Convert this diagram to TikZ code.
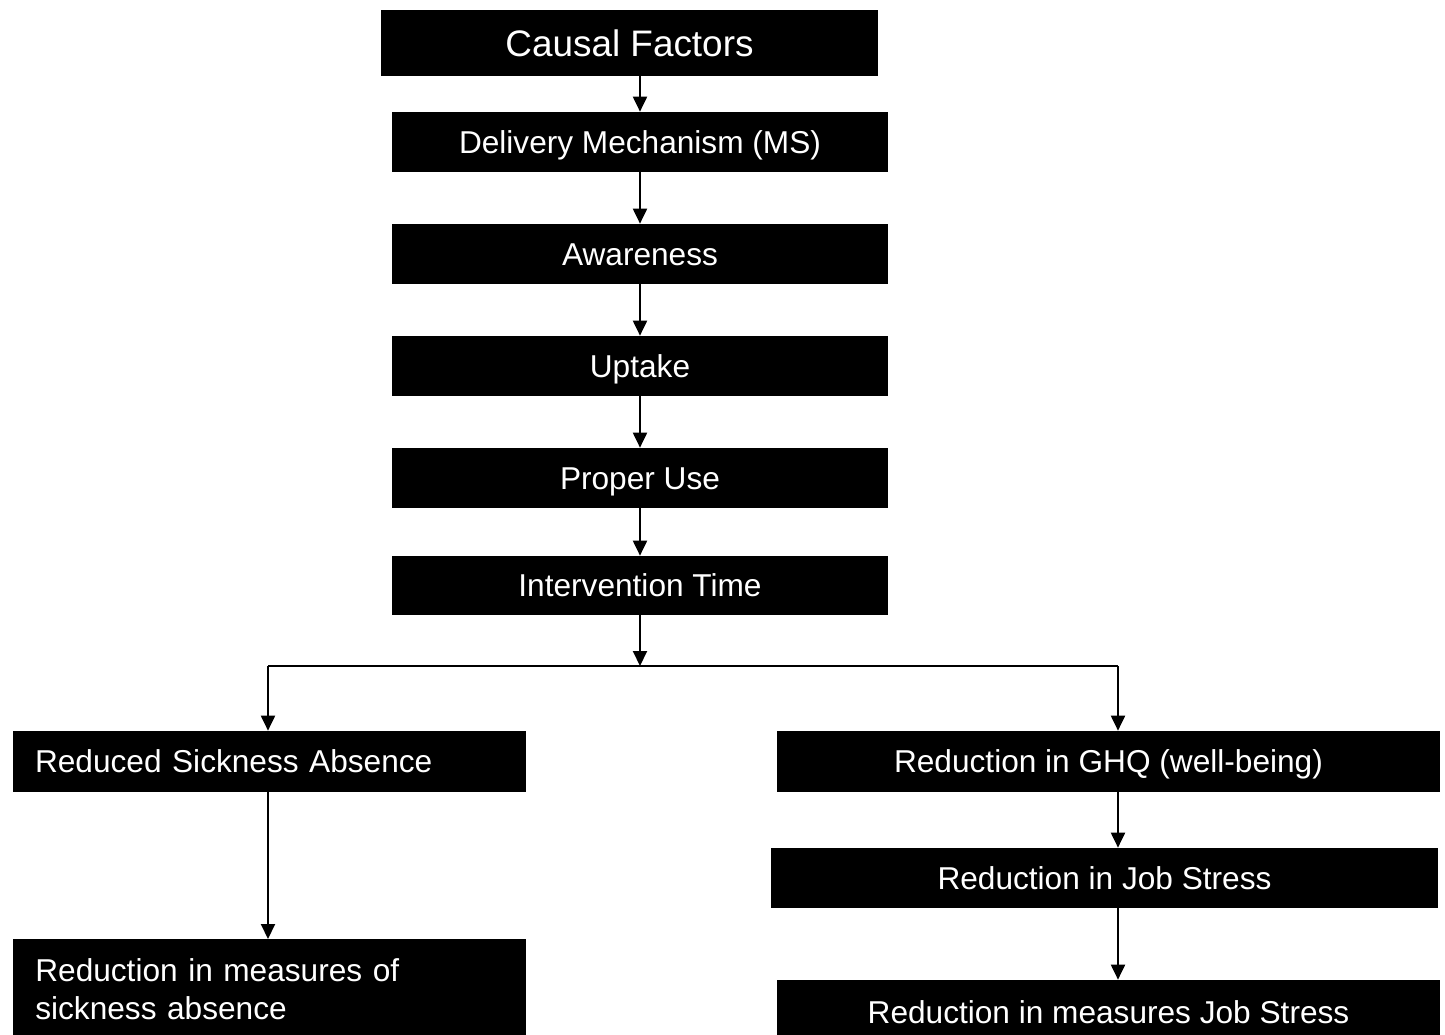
\documentclass[tikz,border=0pt]{standalone}
\usepackage{fontspec}
\setmainfont{Liberation Sans}
\usetikzlibrary{arrows.meta}

\begin{document}
\begin{tikzpicture}[x=0.02cm, y=-0.02cm,
                    blk/.style={fill=black, text=white, inner sep=0pt, font=\fontsize{18}{21.5}\selectfont},
                    box/.style={blk, text height=0.45cm, text depth=0cm},
                    leftbox/.style={align=left, text width=9.38cm, inner xsep=0.44cm},
                    arr/.style={line width=0.04cm, -{Triangle[length=0.3cm,width=0.28cm]}}]
                    \useasboundingbox (0,0) rectangle (1445,1035);
                    \node[box, minimum width=9.94cm, minimum height=1.32cm, text height=0.53cm, font=\fontsize{21}{25}\selectfont] (causal) at (629.5,43) {Causal Factors};
                    \node[box, minimum width=9.92cm, minimum height=1.2cm] (deliv) at (640,142) {Delivery Mechanism (MS)};
                    \node[box, minimum width=9.92cm, minimum height=1.2cm] (aware) at (640,254) {Awareness};
                    \node[box, minimum width=9.92cm, minimum height=1.2cm] (uptake) at (640,366) {Uptake};
                    \node[box, minimum width=9.92cm, minimum height=1.2cm] (proper) at (640,478) {Proper Use};
                    \node[box, minimum width=9.92cm, minimum height=1.18cm] (interv) at (640,585.5) {Intervention Time};
                    \node[box, leftbox, minimum height=1.22cm] (sick) at (269.5,761.5) {Reduced Sickness Absence};
                    \node[blk, leftbox, inner ysep=0.38cm, anchor=north west] (sickm) at (13,939) {Reduction in measures of\\sickness absence};
                    \node[box, minimum width=13.26cm, minimum height=1.22cm] (ghq) at (1108.5,761.5) {Reduction in GHQ (well-being)};
                    \node[box, minimum width=13.34cm, minimum height=1.2cm] (jobs) at (1104.5,878) {Reduction in Job Stress};
                    \node[box, minimum width=13.26cm, minimum height=1.28cm] (jobm) at (1108.5,1012) {Reduction in measures Job Stress};
                    \coordinate (split) at (640,666);
                    \coordinate (jl) at (268,666);
                    \coordinate (jr) at (1118,666);
                    \draw[arr] (causal.south -| deliv.north) -- (deliv.north);
                    \draw[arr] (deliv) -- (aware);
                    \draw[arr] (aware) -- (uptake);
                    \draw[arr] (uptake) -- (proper);
                    \draw[arr] (proper) -- (interv);
                    \draw[arr] (interv) -- (split);
                    \draw[line width=0.04cm] (jl) -- (jr);
                    \draw[arr] (jl) -- (jl |- sick.north);
                    \draw[arr] (jr) -- (jr |- ghq.north);
                    \draw[arr] (sick.south -| jl) -- (sickm.north -| jl);
                    \draw[arr] (ghq.south -| jr) -- (jobs.north -| jr);
                    \draw[arr] (jobs.south -| jr) -- (jobm.north -| jr);
                \end{tikzpicture}
\end{document}
